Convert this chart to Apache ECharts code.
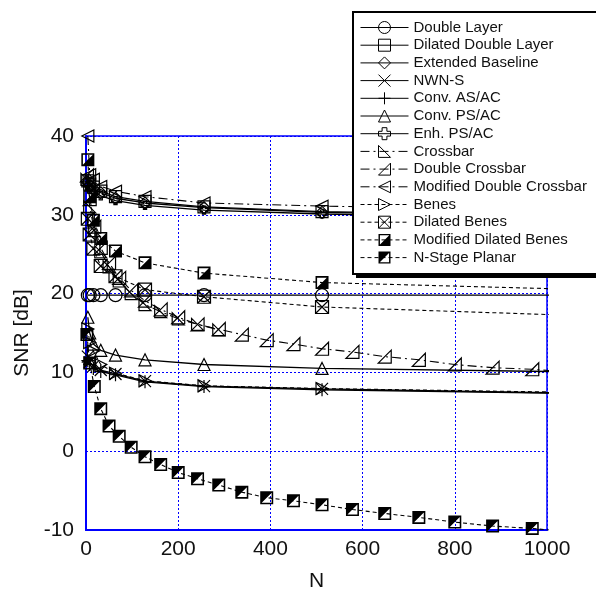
<!DOCTYPE html>
<html>
<head>
<meta charset="utf-8">
<script src="https://cdn.jsdelivr.net/npm/echarts@6/dist/echarts.min.js"></script>
<style>
  html, body { margin: 0; padding: 0; background: #fff; }
  #main { width: 596px; height: 597px; }
</style>
</head>
<body>
<div id="main"></div>
<script>
// N values: powers of two, and 2*m^2 for the planar / double crossbar curves
var nPow = [4, 8, 16, 32, 64, 128, 256, 512, 1024];
var nPlanar = [2, 8, 18, 32, 50, 72, 98, 128, 162, 200, 242, 288, 338, 392, 450, 512, 578, 648, 722, 800, 882, 968, 1058];
var nCross = [2, 8, 18, 32, 50, 72, 98, 128, 162, 200, 242, 288];

// SNR [dB]
var doubleLayer      = [19.8, 19.8, 19.8, 19.8, 19.8, 19.8, 19.8, 19.8, 19.8];
var dilatedDouble    = [34.3, 33.9, 33.5, 33.0, 32.3, 31.7, 31.0, 30.4, 29.9];
var extendedBaseline = [34.1, 33.7, 33.3, 32.8, 32.1, 31.5, 30.9, 30.3, 29.8];
var nwnS             = [12.0, 11.3, 10.8, 10.3, 9.8, 8.9, 8.25, 7.9, 7.4];
var convASAC         = [11.5, 11.0, 10.5, 10.1, 9.7, 8.8, 8.2, 7.8, 7.35];
var convPSAC         = [17.0, 15.0, 13.6, 12.8, 12.2, 11.6, 11.0, 10.5, 10.1];
var enhPSAC          = [33.8, 33.4, 32.9, 32.4, 31.8, 31.2, 30.6, 30.1, 29.6];
var crossbar         = [34.5, 31.0, 28.0, 25.3, 23.4, 21.6, 20.0, 18.6, 17.7, 16.8, 16.1, 15.4];
var doubleCrossbar   = [35.0, 32.0, 28.5, 25.8, 23.9, 22.0, 20.4, 19.1, 18.0, 17.0, 16.1, 15.5, 14.8, 14.1, 13.6, 13.0, 12.6, 12.0, 11.6, 11.0, 10.6, 10.4, 10.0];
var modDoubleCross   = [40.0, 35.1, 34.5, 33.6, 33.0, 32.3, 31.5, 31.1, 30.6];
var benes            = [15.5, 13.8, 12.7, 11.0, 9.9, 8.95, 8.3, 7.95, 7.5];
var dilatedBenes     = [29.5, 27.5, 25.7, 23.5, 22.2, 20.5, 19.6, 18.3, 17.3];
var modDilatedBenes  = [37.0, 32.3, 29.3, 27.0, 25.4, 23.9, 22.6, 21.4, 20.6];
var nStagePlanar     = [14.8, 11.2, 8.2, 5.4, 3.2, 1.9, 0.5, -0.7, -1.7, -2.7, -3.5, -4.3, -5.2, -5.9, -6.3, -6.8, -7.4, -7.9, -8.4, -9.0, -9.5, -9.8, -10.3];

var xTicks = [0, 200, 400, 600, 800, 1000];
var yTicks = [-10, 0, 10, 20, 30, 40];

var FONT = 'Liberation Sans, Arial, sans-serif';

// marker shapes
var SYM = {
  cross: 'path://M0,0L10,10M10,0L0,10',
  plus: 'path://M5,0L5,10M0,5L10,5',
  hollowPlus: 'path://M3,0L7,0L7,3L10,3L10,7L7,7L7,10L3,10L3,7L0,7L0,3L3,3Z',
  triBL: 'path://M0,0L0,10L10,10Z',
  triBR: 'path://M10,0L10,10L0,10Z',
  left: 'path://M0,5L10,0L10,10Z',
  right: 'path://M10,5L0,0L0,10Z',
  boxX: 'path://M0,0L10,0L10,10L0,10ZM0,0L10,10M10,0L0,10',
  halfLR: 'path://M0,0L10,0L10,10L0,10ZM1.2,1.2L1.2,8.8L8.8,8.8L8.8,1.2ZM10,0L10,10L0,10Z',
  halfUL: 'path://M0,0L10,0L10,10L0,10ZM1.2,1.2L1.2,8.8L8.8,8.8L8.8,1.2ZM0,0L10,0L0,10Z'
};

var hollowStyle = { color: 'rgba(0,0,0,0)', borderColor: '#000', borderWidth: 1.2 };
var filledStyle = { color: '#000', borderColor: '#000', borderWidth: 0 };

function pairs(xs, ys) {
  var out = [];
  for (var i = 0; i < ys.length; i++) out.push([xs[i], ys[i]]);
  return out;
}

function mk(name, xs, ys, symbol, size, lineType, filled) {
  return {
    name: name,
    type: 'line',
    data: pairs(xs, ys),
    symbol: symbol,
    symbolSize: size,
    showSymbol: true,
    clip: true,
    animation: false,
    lineStyle: { color: '#000', width: lineType === 'solid' ? 1.3 : 1.1, type: lineType },
    itemStyle: filled ? filledStyle : hollowStyle,
    emphasis: { disabled: true }
  };
}

var dashed = [4, 3];
var dashDot = [9, 4, 2, 4];

var seriesList = [
  mk('Double Layer', nPow, doubleLayer, 'circle', 13, 'solid'),
  mk('Dilated Double Layer', nPow, dilatedDouble, 'rect', 12, 'solid'),
  mk('Extended Baseline', nPow, extendedBaseline, 'diamond', 12, 'solid'),
  mk('NWN-S', nPow, nwnS, SYM.cross, 12, 'solid'),
  mk('Conv. AS/AC', nPow, convASAC, SYM.plus, 13, 'solid'),
  mk('Conv. PS/AC', nPow, convPSAC, 'triangle', 12, 'solid'),
  mk('Enh. PS/AC', nPow, enhPSAC, SYM.hollowPlus, 8, 'solid'),
  mk('Crossbar', nCross, crossbar, SYM.triBL, 12, dashDot),
  mk('Double Crossbar', nPlanar, doubleCrossbar, SYM.triBR, 13, dashDot),
  mk('Modified Double Crossbar', nPow, modDoubleCross, SYM.left, 12, dashDot),
  mk('Benes', nPow, benes, SYM.right, 12, dashed),
  mk('Dilated Benes', nPow, dilatedBenes, SYM.boxX, 13, dashed),
  mk('Modified Dilated Benes', nPow, modDilatedBenes, SYM.halfLR, 13, dashed, true),
  mk('N-Stage Planar', nPlanar, nStagePlanar, SYM.halfUL, 13, dashed, true)
];

// legend entries carry their own marker fill (line series would otherwise fill with the line colour)
var legendItems = seriesList.map(function (s) {
  var filled = s.itemStyle === filledStyle;
  return {
    name: s.name,
    itemStyle: filled
      ? { color: '#000', borderWidth: 0 }
      : { color: 'rgba(0,0,0,0)', borderColor: '#000', borderWidth: 1 },
    lineStyle: { width: 1 }
  };
});

var myChart = echarts.init(document.getElementById('main'), null, { renderer: 'canvas' });

var gridLine = { color: '#0000ff', type: [2, 2], width: 1 };

var option = {
  animation: false,
  backgroundColor: '#fff',
  textStyle: { fontFamily: FONT },
  grid: {
    left: 86, top: 136, right: 49, bottom: 63,
    show: true, borderColor: '#0000ff', borderWidth: 1.5,
    backgroundColor: 'rgba(0,0,0,0)'
  },
  xAxis: {
    type: 'value',
    min: xTicks[0], max: xTicks[xTicks.length - 1], interval: 200,
    name: 'N', nameLocation: 'middle', nameGap: 41,
    nameTextStyle: { color: '#111', fontSize: 21, fontFamily: FONT },
    axisLine: { show: true, onZero: false, lineStyle: { color: '#0000ff', width: 2 } },
    axisTick: { show: false },
    axisLabel: { color: '#111', fontSize: 21, fontFamily: FONT, margin: 9,
      formatter: function (v) { return String(v); } },
    splitLine: { show: true, lineStyle: gridLine }
  },
  yAxis: {
    type: 'value',
    min: yTicks[0], max: yTicks[yTicks.length - 1], interval: 10,
    name: 'SNR [dB]', nameLocation: 'middle', nameGap: 52,
    nameTextStyle: { color: '#111', fontSize: 21, fontFamily: FONT },
    axisLine: { show: true, onZero: false, lineStyle: { color: '#0000ff', width: 2 } },
    axisTick: { show: false },
    axisLabel: { color: '#111', fontSize: 21, fontFamily: FONT, margin: 12,
      formatter: function (v) { return String(v); } },
    splitLine: { show: true, lineStyle: gridLine }
  },
  legend: {
    data: legendItems,
    orient: 'vertical',
    left: 360, top: 20,
    padding: 0,
    itemWidth: 48, itemHeight: 15, itemGap: 2.7,
    selectedMode: false,
    z: 10,
    textStyle: { color: '#111', fontSize: 15, lineHeight: 15, fontFamily: FONT }
  },
  graphic: [
    { type: 'rect', z: 8, silent: true,
      shape: { x: 356, y: 15, width: 260, height: 263 },
      style: { fill: '#000' } },
    { type: 'rect', z: 9, silent: true,
      shape: { x: 353, y: 12, width: 260, height: 262 },
      style: { fill: '#fff', stroke: '#000', lineWidth: 2 } }
  ],
  series: seriesList
};

if (option && typeof option === "object") {
  myChart.setOption(option, true);
}
</script>
</body>
</html>
